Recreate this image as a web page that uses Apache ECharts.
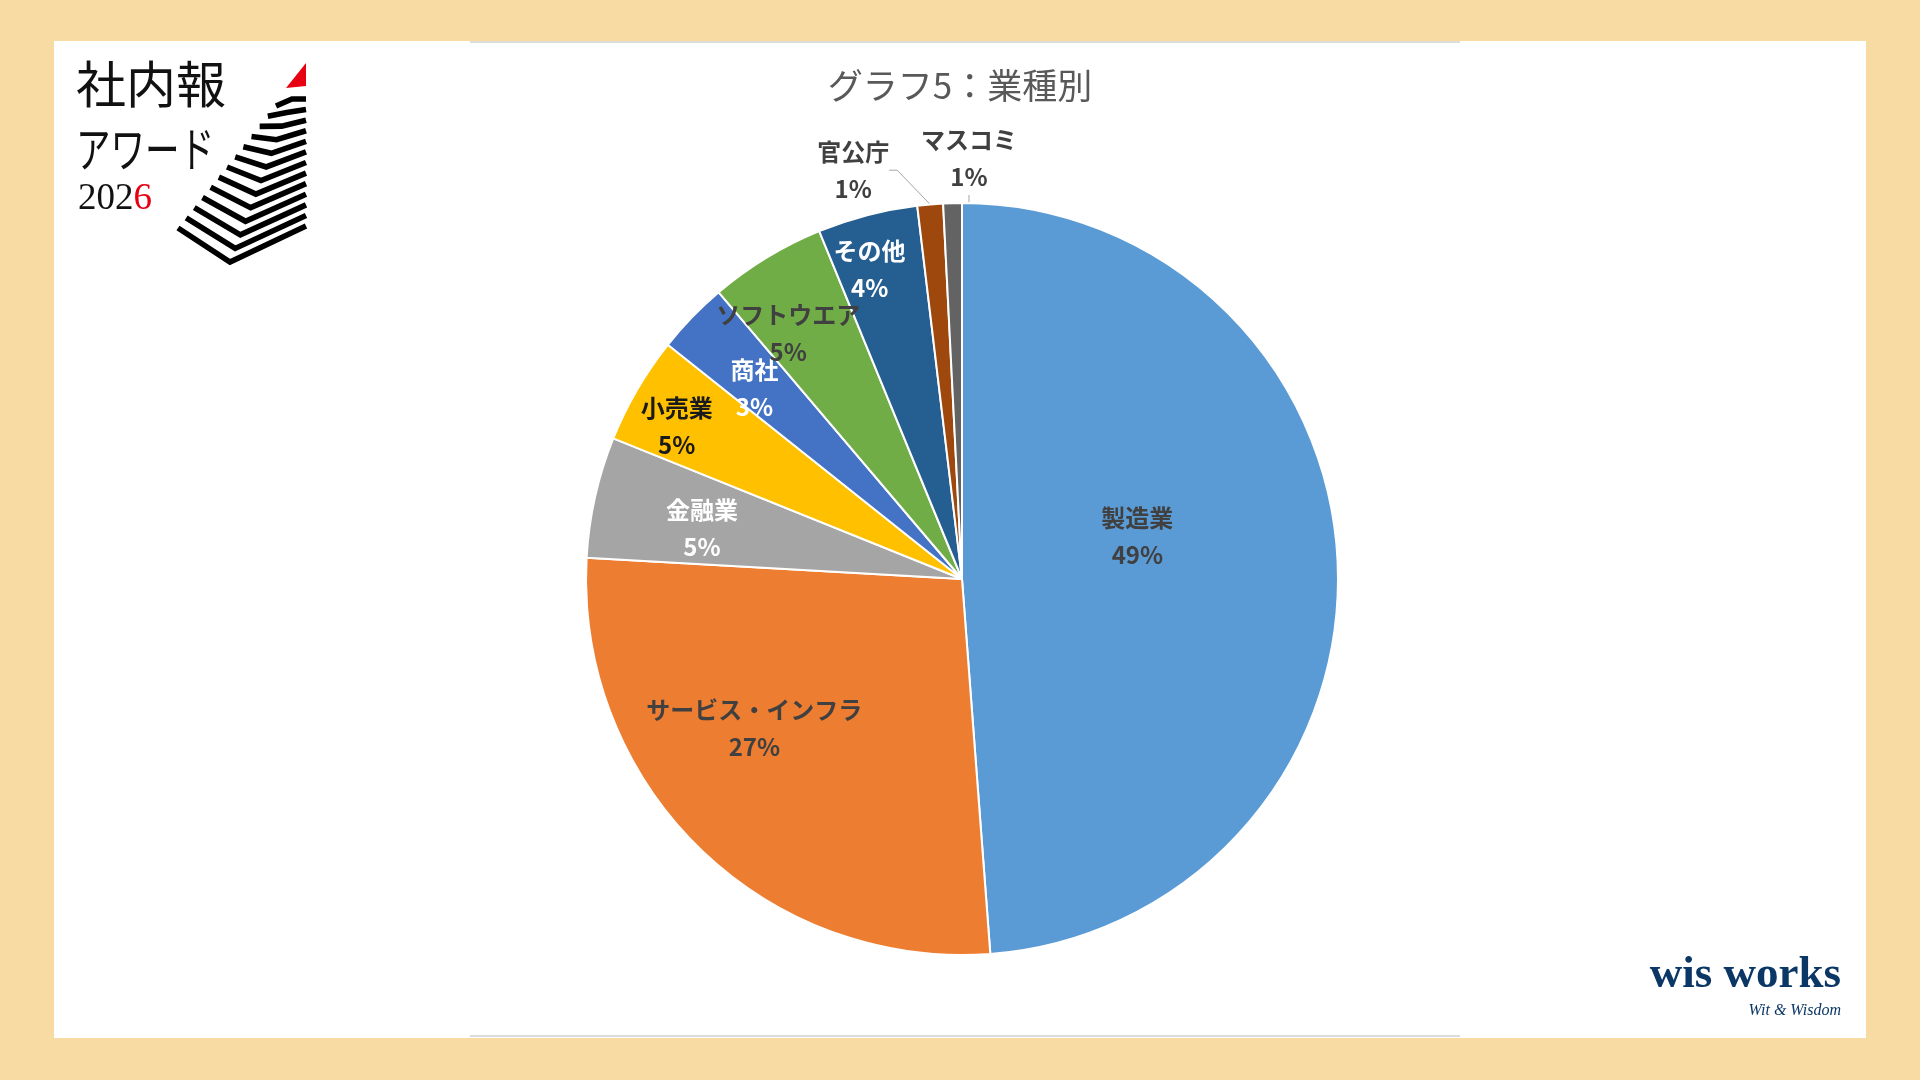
<!DOCTYPE html>
<html><head><meta charset="utf-8">
<script src="https://cdn.jsdelivr.net/npm/echarts@6/dist/echarts.min.js"></script>
<style>html,body{margin:0;padding:0;background:#F8DAA3;} #c{width:1920px;height:1080px;}</style>
</head><body><div id="c"></div>
<script>
// ---- data ----
const chartTitle = 'グラフ5：業種別';
const categories = ['製造業','サービス・インフラ','金融業','小売業','商社','ソフトウエア','その他','官公庁','マスコミ'];
const shares = [48.8, 27.1, 5.2, 4.6, 3.1, 5.0, 4.3, 1.1, 0.8];

// ---- styles ----
const sliceColors = ['#5B9BD5','#ED7D31','#A5A5A5','#FFC000','#4472C4','#70AD47','#255E91','#9E480E','#636363'];
const labelColors = ['#404040','#404040','#ffffff','#1a1a1a','#ffffff','#404040','#ffffff','#404040','#404040'];
const outsideLabel = [false,false,false,false,false,false,false,true,true];
// label placement: [fraction of radius, angle in degrees clockwise from 12 o'clock]
const labelPlacement = [[0.48,76.3],[0.68,234.3],[0.705,281.1],[0.86,298.1],[0.75,312.6],[0.80,324.7],[0.86,343.4],[1.125,345.1],[1.12,0.95]];
const PIE_C = [962, 579], PIE_R = 376;

const total = shares.reduce((a,b)=>a+b,0);
const pieData = categories.map((name,i)=>({
  name, value: shares[i],
  itemStyle:{color:sliceColors[i]},
  label:{color:labelColors[i], position: outsideLabel[i] ? 'outside' : 'inside'},
  labelLine:{show: outsideLabel[i]}
}));

// logo stripes (decorative)
const stripes = [];
const N = 13;
for (let k=0;k<N;k++){
  const t = k/(N-1);
  const L=[276+(178-276)*t, 106+(228-106)*t];
  const V=[292+(230-292)*t, 99+(262-99)*t];
  const R=[306, 99+(226-99)*t];
  stripes.push({type:'polyline', shape:{points:[L,V,R]}, style:{stroke:'#000',lineWidth:5.6,fill:null,lineCap:'butt',lineJoin:'miter'}, z:5});
}

const chart = echarts.init(document.getElementById('c'), null, {renderer:'canvas'});
chart.setOption({
  animation:false,
  backgroundColor:'#F8DAA3',
  title:{text:chartTitle,left:'center',top:63,textStyle:{fontFamily:'Noto Sans CJK JP',fontSize:35,fontWeight:'normal',color:'#595959'}},
  graphic:[
    {type:'rect',shape:{x:54,y:41,width:1812,height:997},style:{fill:'#ffffff'},z:-10},
    {type:'line',shape:{x1:470,y1:42,x2:1460,y2:42},style:{stroke:'#dcdcdc',lineWidth:2},z:-5},
    {type:'line',shape:{x1:470,y1:1036,x2:1460,y2:1036},style:{stroke:'#dcdcdc',lineWidth:2},z:-5},
    {type:'text',x:76,y:84,style:{text:'社内報',fontFamily:'Noto Sans CJK JP',fontSize:50,fill:'#111',verticalAlign:'middle'},z:5},
    {type:'text',x:76,y:149,scaleX:0.72,style:{text:'アワード',fontFamily:'Noto Sans CJK JP',fontSize:48,fill:'#111',verticalAlign:'middle'},z:5},
    {type:'text',x:78,y:199,style:{text:'{a|202}{r|6}',verticalAlign:'middle',rich:{a:{fontFamily:'Liberation Serif',fontSize:37,fill:'#111'},r:{fontFamily:'Liberation Serif',fontSize:37,fill:'#E60012'}}},z:5},
    {type:'polygon',shape:{points:[[306,63],[286,88],[306,86]]},style:{fill:'#E60012'},z:5},
    ...stripes,
    {type:'text',x:1841,y:998,style:{text:'wis works',fontFamily:'Liberation Serif',fontWeight:'bold',fontSize:45,fill:'#0B3766',align:'right',verticalAlign:'bottom'},z:5},
    {type:'text',x:1841,y:1011,style:{text:'Wit & Wisdom',fontFamily:'Liberation Serif',fontStyle:'italic',fontSize:16,fill:'#0B3766',align:'right',verticalAlign:'middle'},z:5}
  ],
  series:[{
    type:'pie',
    center:PIE_C,
    radius:PIE_R,
    startAngle:90,
    clockwise:true,
    data:pieData,
    itemStyle:{borderColor:'#ffffff',borderWidth:2},
    emphasis:{disabled:true},
    label:{
      show:true,
      fontFamily:'Noto Sans CJK JP',
      fontSize:24,
      fontWeight:'bold',
      lineHeight:37,
      align:'center',
      formatter:(p)=>p.name+'\n'+Math.round(p.value/total*100)+'%'
    },
    labelLine:{length:10,length2:8,lineStyle:{color:'#a6a6a6',width:1}},
    labelLayout:(params)=>{
      const pl = labelPlacement[params.dataIndex];
      const a = pl[1]*Math.PI/180;
      return {x:PIE_C[0]+pl[0]*PIE_R*Math.sin(a), y:PIE_C[1]-pl[0]*PIE_R*Math.cos(a), align:'center', verticalAlign:'middle'};
    }
  }]
});
</script></body></html>
